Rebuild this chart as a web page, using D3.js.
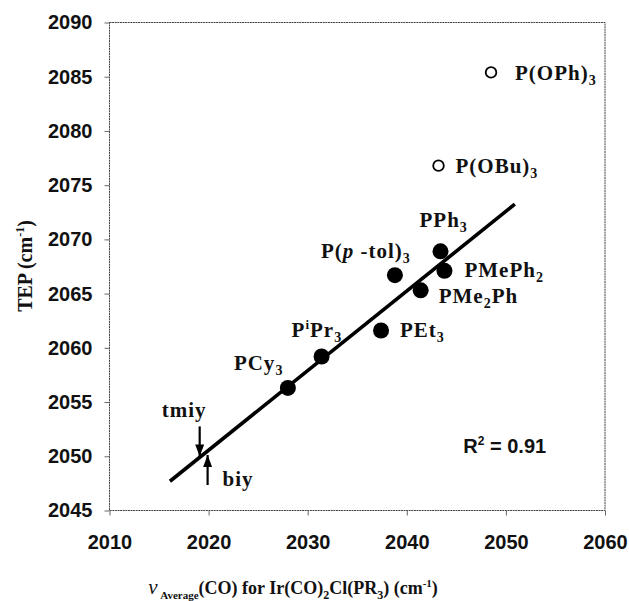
<!DOCTYPE html>
<html>
<head>
<meta charset="utf-8">
<script src="https://cdn.jsdelivr.net/npm/d3@7"></script>
<style>
  body { margin: 0; background: #fff; }
  svg { display: block; }
  .tick-lab { font-family: "Liberation Sans", Arial, sans-serif; font-weight: bold; font-size: 20px; fill: #111; }
  .chem { font-family: "Liberation Serif", "Times New Roman", serif; font-weight: bold; font-size: 21px; fill: #111; letter-spacing: 1px; }
  .ttl { font-family: "Liberation Serif", "Times New Roman", serif; font-weight: bold; fill: #111; }
</style>
</head>
<body>
<div id="chart"></div>
<script>
// ligand names, nu(CO) average for Ir(CO)2Cl(PR3), and TEP values
const ligands  = ["PCy3", "PiPr3", "PEt3", "Ptol3", "PMe2Ph", "PPh3", "PMePh2", "POBu3", "POPh3"]
const nuAvg    = [2028.0, 2031.4, 2037.4, 2038.8, 2041.4, 2043.4, 2043.8, 2043.2, 2048.5]
const tep      = [2056.3, 2059.2, 2061.6, 2066.7, 2065.3, 2068.9, 2067.1, 2076.8, 2085.4]
const inFit    = [true, true, true, true, true, true, true, false, false]
const xTicks   = [2010, 2020, 2030, 2040, 2050, 2060]
const yTicks   = [2045, 2050, 2055, 2060, 2065, 2070, 2075, 2080, 2085, 2090]
const fitRange = [2016.1, 2050.9]
const arrowAt  = [2019.1, 2019.9]

const W = 629, H = 601
const margin = {top: 22.5, right: 24, bottom: 91, left: 109.5}

const svg = d3.select("#chart").append("svg")
  .attr("width", W).attr("height", H)

const x = d3.scaleLinear().domain([2010, 2060]).range([margin.left, W - margin.right])
const y = d3.scaleLinear().domain([2045, 2090]).range([H - margin.bottom + 0.5, margin.top])

// frame
svg.append("rect")
  .attr("x", x(2010)).attr("y", y(2090))
  .attr("width", x(2060) - x(2010)).attr("height", y(2045) - y(2090))
  .attr("fill", "none").attr("stroke", "#444").attr("stroke-width", 1)
  .attr("stroke-dasharray", "2,0.6")

// axes
const xAxis = svg.append("g").attr("transform", `translate(0,${y(2045)})`)
  .call(d3.axisBottom(x).tickValues(xTicks).tickSize(5).tickPadding(19).tickFormat(d3.format("d")))
const yAxis = svg.append("g").attr("transform", `translate(${x(2010)},0)`)
  .call(d3.axisLeft(y).tickValues(yTicks).tickSize(5).tickPadding(12).tickFormat(d3.format("d")))
for (const a of [xAxis, yAxis]) {
  a.select(".domain").remove()
  a.selectAll(".tick line").attr("stroke", "#666")
  a.selectAll(".tick text").attr("class", "tick-lab").attr("font-size", null).attr("font-family", null)
}

// least squares fit over filled points
const pts = nuAvg.map((v, i) => ({x: v, y: tep[i], name: ligands[i], fit: inFit[i]}))
const fp = pts.filter(p => p.fit)
const mx = d3.mean(fp, p => p.x), my = d3.mean(fp, p => p.y)
const sxy = d3.sum(fp, p => (p.x - mx) * (p.y - my))
const sxx = d3.sum(fp, p => (p.x - mx) ** 2)
const slope = sxy / sxx
const fitY = v => my + slope * (v - mx)

svg.append("line")
  .attr("x1", x(fitRange[0])).attr("y1", y(fitY(fitRange[0])))
  .attr("x2", x(fitRange[1])).attr("y2", y(fitY(fitRange[1])))
  .attr("stroke", "#000").attr("stroke-width", 3.6)

svg.selectAll("circle.pt")
  .data(pts)
  .enter()
  .append("circle")
    .attr("class", "pt")
    .attr("cx", d => x(d.x))
    .attr("cy", d => y(d.y))
    .attr("r", d => d.fit ? 8 : 5.3)
    .attr("fill", d => d.fit ? "#000" : "#fff")
    .attr("stroke", "#000")
    .attr("stroke-width", d => d.fit ? 0 : 1.8)

// labels built from tspans, placed relative to their point
function chem (px, py, parts) {
  const t = svg.append("text").attr("class", "chem").attr("x", px).attr("y", py)
  parts.forEach(p => {
    const s = t.append("tspan").text(p[0])
    if (p[1] === "sub") s.attr("font-size", 14).attr("dy", 5)
    if (p[1] === "sup") s.attr("font-size", 13).attr("dy", -8)
    if (p[1] === "it") s.attr("font-style", "italic")
    if (p[2]) s.attr("dy", p[2])
  })
  return t
}
const at = i => [x(nuAvg[i]), y(tep[i])]
let p
p = at(0); chem(p[0] - 54, p[1] - 18, [["PCy"], ["3", "sub"]])
p = at(1); chem(p[0] - 30, p[1] - 20, [["P"], ["i", "sup"], ["Pr", null, 8], ["3", "sub"]])
p = at(2); chem(p[0] + 19, p[1] + 7, [["PEt"], ["3", "sub"]])
p = at(3); chem(p[0] - 74, p[1] - 17, [["P("], ["p", "it"], [" -tol)"], ["3", "sub"]])
p = at(4); chem(p[0] + 18, p[1] + 13, [["PMe"], ["2", "sub"], ["Ph", null, -5]])
p = at(5); chem(p[0] - 21, p[1] - 24, [["PPh"], ["3", "sub"]])
p = at(6); chem(p[0] + 20, p[1] + 6, [["PMePh"], ["2", "sub"]])
p = at(7); chem(p[0] + 17, p[1] + 7, [["P(OBu)"], ["3", "sub"]])
p = at(8); chem(p[0] + 24, p[1] + 8, [["P(OPh)"], ["3", "sub"]])

// R^2 annotation
const r2 = sxy * sxy / (sxx * d3.sum(fp, q => (q.y - my) ** 2))
const rt = svg.append("text").attr("class", "tick-lab").attr("font-size", 21)
  .attr("x", x(2045.7)).attr("y", y(2050.3))
rt.append("tspan").text("R")
rt.append("tspan").text("2").attr("font-size", 12).attr("dy", -8)
rt.append("tspan").text(" = " + r2.toFixed(2)).attr("dy", 8)

// arrows pointing at the fit line
const defs = svg.append("defs")
defs.append("marker").attr("id", "ah").attr("viewBox", "0 0 12 10")
  .attr("refX", 12).attr("refY", 5).attr("markerWidth", 12).attr("markerHeight", 10)
  .attr("markerUnits", "userSpaceOnUse").attr("orient", "auto")
  .append("path").attr("d", "M0,0.5 L12,5 L0,9.5 Z").attr("fill", "#000")
const ax0 = x(arrowAt[0]), ay0 = y(fitY(arrowAt[0]))
const ax1 = x(arrowAt[1]), ay1 = y(fitY(arrowAt[1]))
svg.append("line").attr("x1", ax0).attr("y1", ay0 - 31).attr("x2", ax0).attr("y2", ay0 - 1)
  .attr("stroke", "#000").attr("stroke-width", 2.2).attr("marker-end", "url(#ah)")
svg.append("line").attr("x1", ax1).attr("y1", ay1 + 34).attr("x2", ax1).attr("y2", ay1 + 4)
  .attr("stroke", "#000").attr("stroke-width", 2.2).attr("marker-end", "url(#ah)")
svg.append("text").attr("class", "chem").attr("x", ax0 - 38).attr("y", ay0 - 40).text("tmiy")
svg.append("text").attr("class", "chem").attr("x", ax1 + 15).attr("y", ay1 + 35).text("biy")

// axis titles
const xt = svg.append("text").attr("class", "ttl").attr("font-size", 18)
  .attr("x", 293).attr("y", 594).attr("text-anchor", "middle")
xt.append("tspan").text("ν").attr("font-style", "italic").attr("font-weight", "normal").attr("font-size", 21)
xt.append("tspan").text(" Average").attr("font-size", 11).attr("dy", 5)
xt.append("tspan").text("(CO) for Ir(CO)").attr("dy", -5)
xt.append("tspan").text("2").attr("font-size", 12).attr("dy", 5)
xt.append("tspan").text("Cl(PR").attr("dy", -5)
xt.append("tspan").text("3").attr("font-size", 12).attr("dy", 5)
xt.append("tspan").text(") (cm").attr("dy", -5)
xt.append("tspan").text("-1").attr("font-size", 11).attr("dy", -7)
xt.append("tspan").text(")").attr("dy", 7)

const yt = svg.append("text").attr("class", "ttl").attr("font-size", 20)
  .attr("text-anchor", "middle").attr("transform", "translate(32,266) rotate(-90)")
yt.append("tspan").text("TEP (cm")
yt.append("tspan").text("-1").attr("font-size", 12).attr("dy", -8)
yt.append("tspan").text(")").attr("dy", 8)
</script>
</body>
</html>
